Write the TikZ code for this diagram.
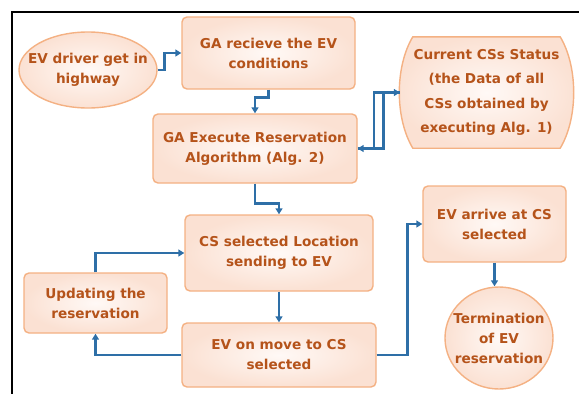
\documentclass[tikz,border=0pt]{standalone}
\usepackage{fontspec}
\setmainfont{DejaVu Sans}
\usepackage{tikz}
\usetikzlibrary{shapes.geometric,arrows.meta}
\definecolor{boxedge}{HTML}{F4B183}
\definecolor{boxin}{HTML}{FFF9F6}
\definecolor{boxout}{HTML}{FBE1D3}
\definecolor{boxtext}{HTML}{B5531A}
\definecolor{linkblue}{HTML}{2E6FA7}
\tikzset{
  boxbase/.style  = {draw=boxedge, line width=1.4pt, shading=radial,
                     inner color=boxin, outer color=boxout,
                     text=boxtext, align=center, inner sep=2pt,
                     font=\fontsize{13.6}{20}\selectfont\bfseries},
  flowbox/.style  = {boxbase, rectangle, rounded corners=5pt},
  roundbox/.style = {boxbase, ellipse, inner xsep=-12pt, inner ysep=0pt},
  link/.style     = {draw=linkblue, line width=2.6pt,
                     -{Triangle[length=6pt,width=7pt]}}
}
\newcommand{\FlowBox}[6]{
  \node[flowbox, minimum width=#4pt, minimum height=#5pt] (#1) at (#2,#3) {#6};
}

\begin{document}
\begin{tikzpicture}[x=1pt,y=-1pt]
	\useasboundingbox (0,0) rectangle (579,394);
	\draw[line width=2.2pt] (12,394) -- (12,12) -- (579,12);
	\node[roundbox, minimum width=138pt, minimum height=76pt] (drv) at (88,70)
		{EV driver get in\\highway};
	\FlowBox{recv}{268.5}{53}{173}{72}{GA recieve the EV\\conditions}
	\FlowBox{exec}{255}{148.5}{204}{69}{GA Execute Reservation\\Algorithm (Alg. 2)}
	\node[minimum width=173pt, minimum height=111pt, inner sep=0pt] (cs) at (486.5,92.5) {};
	\shade[draw=boxedge, line width=1.4pt, inner color=boxin, outer color=boxout]
		([xshift=13pt]cs.north west) -- ([xshift=-13pt]cs.north east)
		.. controls ([xshift=5pt,yshift=-30pt]cs.north east) and ([xshift=5pt,yshift=30pt]cs.south east) .. ([xshift=-13pt]cs.south east)
		-- ([xshift=13pt]cs.south west)
		.. controls ([xshift=-5pt,yshift=30pt]cs.south west) and ([xshift=-5pt,yshift=-30pt]cs.north west) .. cycle;
	\node[text=boxtext, align=center, font=\fontsize{13.6}{24.5}\selectfont\bfseries] at (cs)
		{Current CSs Status\\(the Data of all\\CSs obtained by\\executing Alg. 1)};
	\FlowBox{loc}{279}{253}{188}{76}{CS selected Location\\sending to EV}
	\FlowBox{upd}{95.5}{303}{143}{60}{Updating the\\reservation}
	\FlowBox{move}{279}{355}{194}{64}{EV on move to CS\\selected}
	\FlowBox{arr}{494.5}{224}{143}{76}{EV arrive at CS\\selected}
	\node[roundbox, minimum width=108pt, minimum height=102pt] (term) at (499,338)
		{Termination\\of EV\\reservation};
	\draw[link] (drv.east) -- ++(7,0) |- (recv.west);
	\draw[link] (recv.south) -- ++(0,8) -| (exec.north);
	\draw[link] (exec.east) -- ++(26,0) |- (cs.west);
	\draw[link] (cs.west) -- ++(-26,0) |- (exec.east);
	\draw[link] (exec.south) -- ++(0,20) -| (loc.north);
	\draw[link] (loc.south) -- (move.north);
	\draw[link] (move.west) -| (upd.south);
	\draw[link] (upd.north) |- (loc.west);
	\draw[link] (move.east) -- ++(31,0) |- (arr.west);
	\draw[link] (arr.south) -- (arr.south |- term.north);
\end{tikzpicture}
\end{document}
